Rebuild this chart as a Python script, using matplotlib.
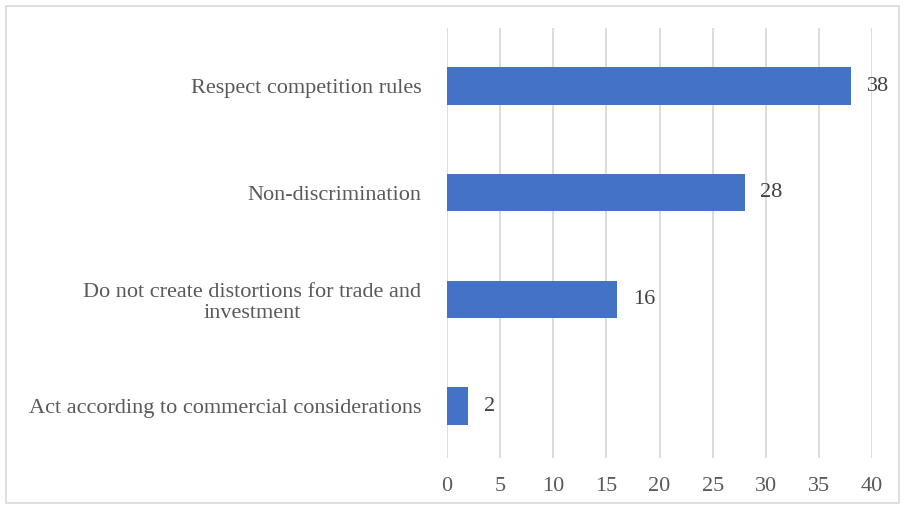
import matplotlib
matplotlib.use("Agg")
import matplotlib.pyplot as plt
from matplotlib.patches import Rectangle

categories = ["Respect competition rules", "Non-discrimination",
              "Do not create distortions for trade and\ninvestment",
              "Act according to commercial considerations"]
values = [38, 28, 16, 2]
xticks = [0, 5, 10, 15, 20, 25, 30, 35, 40]

plt.rcParams['font.family'] = ['Liberation Serif', 'DejaVu Serif']

fig = plt.figure(figsize=(9.05, 5.08), dpi=100)
ax = fig.add_axes([447/905, 1-458/508, 425/905, 430/508])

FS = 16
ypos = list(range(len(categories)))
ax.barh(ypos, values, height=0.35, color="#4472C4", zorder=3)
ax.set_ylim(3.487, -0.544)
ax.set_xlim(0, 40)
ax.set_xticks(xticks)
ax.set_xticklabels([str(t) for t in xticks], fontsize=FS, color="#595959")
ax.set_yticks(ypos)
ax.set_yticklabels(categories, fontsize=FS, color="#595959", linespacing=1.15)
for lbl in ax.get_yticklabels():
    lbl.set_multialignment('center')
ax.tick_params(axis='x', length=0, pad=14)
ax.tick_params(axis='y', length=0, pad=18.5)
ax.grid(axis='x', color="#d9d9d9", linewidth=1.3, zorder=0)
for s in ax.spines.values():
    s.set_visible(False)
for y, v in zip(ypos, values):
    ax.text(v + 1.5, y, str(v), va='center', ha='left', fontsize=FS, color="#404040")

fig.patches.append(Rectangle((6/905, 5/508), 893/905, 497/508, transform=fig.transFigure,
                             fill=False, edgecolor="#d9d9d9", linewidth=1.2))
fig.savefig("out.png", dpi=100)
